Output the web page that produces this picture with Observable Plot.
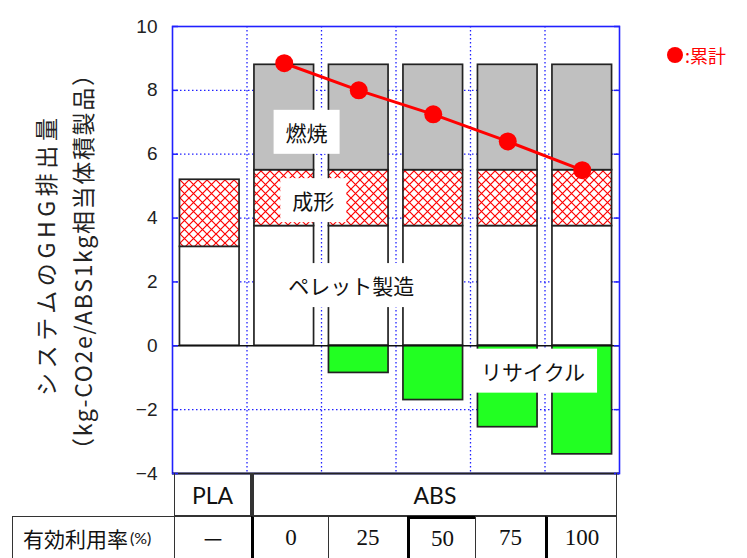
<!DOCTYPE html>
<html><head><meta charset="utf-8">
<script src="https://cdn.jsdelivr.net/npm/d3@7"></script>
<script src="https://cdn.jsdelivr.net/npm/@observablehq/plot@0.6"></script>
<style>
body{margin:0;background:#fff;}
#wrap{position:relative;width:747px;height:558px;overflow:hidden;background:#fff;}
#wrap svg{position:absolute;left:0;top:0;}
.cell{position:absolute;box-sizing:border-box;display:flex;align-items:center;justify-content:center;font-family:Lato,"Open Sans",sans-serif;font-size:23px;color:#111;border:0 solid #333;}
</style></head><body><div id="wrap"></div>
<script>
// ---- data ----
const groups = ["PLA", "ABS", "ABS", "ABS", "ABS", "ABS"];
const rates = ["－", "0", "25", "50", "75", "100"];
const pellet = [3.1, 3.75, 3.75, 3.75, 3.75, 3.75];
const molding = [2.1, 1.75, 1.75, 1.75, 1.75, 1.75];
const combustion = [0, 3.3, 3.3, 3.3, 3.3, 3.3];
const recycle = [0, 0, -0.85, -1.7, -2.55, -3.4];
const total = [null, 8.85, 8.0, 7.25, 6.4, 5.5];
const yTicks = [-4, -2, 0, 2, 4, 6, 8, 10];
const segmentNames = ["ペレット製造", "成形", "燃焼", "リサイクル"];
const legendLabel = ":累計";
const yTitle1 = "システムのGHG排出量";
const yTitle2 = "（kg-CO2e/ABS1kg相当体積製品）";
const rateHeader = "有効利用率";
const rateUnit = "(%)";

// ---- annotation placement (layout) ----
const annotations = [
  {text: segmentNames[2], x: 1.30, y: 6.63},
  {text: segmentNames[1], x: 1.39, y: 4.49},
  {text: segmentNames[0], x: 1.90, y: 1.83},
  {text: segmentNames[3], x: 4.34, y: -0.85}
];
const tableEdges = [174, 251, 328, 407, 475, 545, 617];

// ---- derived rows ----
const idx = groups.map((_, i) => i);
const half = 0.4;
const seg = (arr, base) => idx.filter(i => arr[i] !== 0).map(i => ({i, y1: base(i), y2: base(i) + arr[i]}));
const pelletRows = seg(pellet, () => 0);
const moldRows = seg(molding, i => pellet[i]);
const combRows = seg(combustion, i => pellet[i] + molding[i]);
const recRows = seg(recycle, () => 0);
const totalRows = idx.filter(i => total[i] != null).map(i => ({i, v: total[i]}));
const gridY = yTicks.filter(v => v !== 0 && v !== yTicks[0] && v !== yTicks[yTicks.length - 1]);
const gridX = idx.slice(1).map(i => i - 0.5);

const blue = "#2020ff";
const barStyle = {x1: d => d.i - half, x2: d => d.i + half, y1: "y1", y2: "y2", stroke: "#222", strokeWidth: 1.7};
const cjk = '"Noto Sans CJK JP", sans-serif';

const chart = Plot.plot({
  width: 747, height: 474,
  marginLeft: 172, marginRight: 128, marginTop: 26, marginBottom: 1,
  x: {domain: [-0.5, groups.length - 0.5], axis: null},
  y: {domain: [yTicks[0], yTicks[yTicks.length - 1]]},
  style: {fontFamily: cjk, overflow: "visible", background: "white"},
  marks: [
    Plot.ruleY(gridY, {stroke: blue, strokeDasharray: "1.5,2.5", strokeWidth: 1.3}),
    Plot.ruleX(gridX, {stroke: blue, strokeDasharray: "1.5,2.5", strokeWidth: 1.3}),
    Plot.rect(pelletRows, {...barStyle, fill: "white"}),
    Plot.rect(moldRows, {...barStyle, fill: "url(#hatch)"}),
    Plot.rect(combRows, {...barStyle, fill: "#c0c0c0"}),
    Plot.rect(recRows, {...barStyle, fill: "#22ff22"}),
    Plot.ruleY([0], {stroke: "#111", strokeWidth: 1.5}),
    Plot.line(totalRows, {x: "i", y: "v", stroke: "red", strokeWidth: 3}),
    Plot.dot(totalRows, {x: "i", y: "v", r: 9, fill: "red", stroke: "none"}),
    Plot.text(annotations, {x: "x", y: "y", text: "text", fontSize: 21, fill: "#111", className: "boxed"}),
    Plot.frame({stroke: blue, strokeWidth: 1.6}),
    Plot.ruleY([yTicks[0]], {stroke: "#222", strokeWidth: 2}),
    Plot.axisY(yTicks, {anchor: "left", tickSize: 0, tickPadding: 15, fontSize: 19, label: null, fill: "#222",
      fontFamily: '"Liberation Sans", sans-serif'}),
    Plot.axisY(yTicks, {anchor: "left", tickSize: -6, text: null, stroke: blue, strokeWidth: 1.5, label: null}),
    Plot.axisY(yTicks, {anchor: "right", tickSize: -6, text: null, stroke: blue, strokeWidth: 1.5, label: null})
  ]
});

const wrap = document.getElementById("wrap");
wrap.appendChild(chart);
const svg = d3.select(chart);

// hatch pattern
const pat = svg.insert("defs", ":first-child").append("pattern")
  .attr("id", "hatch").attr("patternUnits", "userSpaceOnUse").attr("width", 9).attr("height", 9);
pat.append("rect").attr("width", 9).attr("height", 9).attr("fill", "white");
pat.append("path").attr("d", "M0,0L9,9M9,0L0,9").attr("stroke", "red").attr("stroke-width", 1.2).attr("fill", "none");

// white boxes behind annotation text
svg.selectAll("g.boxed text").each(function() {
  const b = this.getBBox();
  const t = this.getAttribute("transform");
  d3.select(this.parentNode).insert("rect", () => this)
    .attr("x", b.x - 12).attr("y", b.y - 7).attr("width", b.width + 24).attr("height", b.height + 14)
    .attr("fill", "white").attr("transform", t);
});

// y title
[[yTitle1, 45, 257, 278, 23], [yTitle2, 82, 262, 398, 23]].forEach(([s, x, y, len, fs]) => {
  svg.append("text").attr("transform", `translate(${x},${y}) rotate(-90)`)
    .attr("text-anchor", "middle").attr("dominant-baseline", "central")
    .attr("font-size", fs).attr("font-family", cjk).attr("fill", "#222")
    .attr("textLength", len).attr("lengthAdjust", "spacing").text(s);
});

// legend
svg.append("circle").attr("cx", 675).attr("cy", 55).attr("r", 8).attr("fill", "red");
svg.append("text").attr("x", 685).attr("y", 55).attr("dominant-baseline", "central").attr("text-anchor", "start")
  .attr("font-size", 18).attr("font-family", cjk).attr("fill", "red").text(legendLabel);

// ---- table ----
function cell(x0, x1, y0, y1, html, style) {
  const d = document.createElement("div");
  d.className = "cell";
  Object.assign(d.style, {left: x0 + "px", top: y0 + "px", width: (x1 - x0) + "px", height: (y1 - y0) + "px"}, style || {});
  d.innerHTML = html;
  wrap.appendChild(d);
  return d;
}
const r0 = 473, r1 = 516, r2 = 562;
const thin = "1.5px", thick = "3px";
// row 1: material groups (run-length)
let start = 0;
for (let i = 1; i <= groups.length; i++) {
  if (i === groups.length || groups[i] !== groups[start]) {
    cell(tableEdges[start], tableEdges[i], r0, r1, groups[start], {
      borderLeftWidth: start === 0 ? thin : thick, borderRightWidth: thin, borderBottomWidth: thin, paddingTop: "2px"});
    start = i;
  }
}
// row 2 header
cell(12, tableEdges[0], r1, r2, `<span style="font-family:${cjk.replace(/"/g, "'")};font-size:21px">${rateHeader}</span><span style="font-size:16px;margin-left:2px">${rateUnit}</span>`, {
  borderLeftWidth: thin, borderTopWidth: thin, justifyContent: "flex-start", paddingLeft: "10px", paddingBottom: "4px"});
// row 2 values
rates.forEach((r, i) => {
  const emph = r === "50";
  cell(tableEdges[i], tableEdges[i + 1], r1, r2, r, {
    borderLeftWidth: (i === 1 || i === 5 || emph) ? thick : thin,
    borderRightWidth: i === rates.length - 1 ? thin : "0",
    borderTopWidth: emph ? thick : thin,
    borderLeftColor: (i === 1 || i === 5 || emph) ? "#000" : "#333",
    borderTopColor: emph ? "#000" : "#333",
    fontFamily: r === "－" ? cjk : undefined, paddingBottom: "4px"});
});
</script></body></html>
